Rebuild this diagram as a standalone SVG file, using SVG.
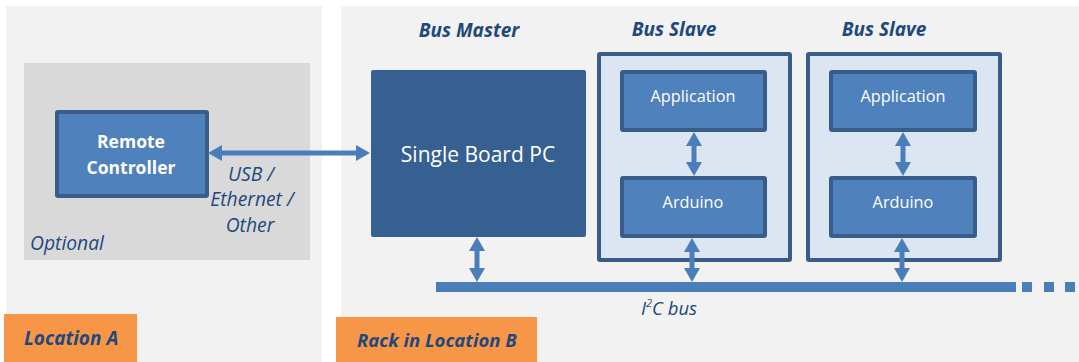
<svg xmlns="http://www.w3.org/2000/svg" width="1079" height="362" viewBox="0 0 1079 362">
<style>
.panel{fill:#f2f2f2}
.lbl{font-family:"Open Sans",Lato,sans-serif;fill:#1f497d;font-style:italic}
.hdr{font-family:"Open Sans",Lato,sans-serif;fill:#1f497d;font-style:italic;font-weight:bold;font-size:19px;text-anchor:middle}
.wt{font-family:"Open Sans",Lato,sans-serif;fill:#ffffff;text-anchor:middle}
.inner{fill:#4f81bd;stroke:#385d8a;stroke-width:4}
.slave{fill:#dce6f2;stroke:#385d8a;stroke-width:4}
.conn{stroke:#4a7ebb;stroke-width:5;fill:none;marker-start:url(#ah);marker-end:url(#ah)}
.tag{fill:#f79646}
</style>
<defs>
<marker id="ah" markerUnits="userSpaceOnUse" markerWidth="14" markerHeight="16" refX="9" refY="8" orient="auto-start-reverse">
<path d="M0,0 L14,8 L0,16 z" fill="#4a7ebb"/>
</marker>
</defs>
<rect width="1079" height="362" fill="#ffffff"/>
<rect class="panel" x="6" y="6" width="316" height="356"/>
<rect class="panel" x="341" y="6" width="738" height="356"/>
<g id="optional-area">
<rect x="24" y="63" width="286" height="197" fill="#d9d9d9"/>
<text class="lbl" x="30" y="250" font-size="19.3">Optional</text>
</g>
<g id="remote-controller">
<rect class="inner" x="57" y="112" width="150" height="84" rx="1"/>
<text class="wt" x="131" y="148" font-size="17.5" font-weight="bold">Remote</text>
<text class="wt" x="131" y="174" font-size="17.5" font-weight="bold">Controller</text>
</g>
<g id="link-label">
<text class="lbl" x="251" y="181" font-size="19.3" text-anchor="middle">USB /</text>
<text class="lbl" x="252" y="206" font-size="19.3" text-anchor="middle">Ethernet /</text>
<text class="lbl" x="250" y="232" font-size="19.3" text-anchor="middle">Other</text>
</g>
<g id="location-a">
<rect class="tag" x="4" y="314" width="133" height="48"/>
<text class="lbl" x="24" y="345" font-size="19" font-weight="bold">Location A</text>
</g>
<g id="location-b">
<rect class="tag" x="336" y="317" width="201" height="45"/>
<text class="lbl" x="357" y="347" font-size="18.5" font-weight="bold">Rack in Location B</text>
</g>
<g id="bus-master">
<text class="hdr" x="469" y="37">Bus Master</text>
<rect x="371" y="70" width="215" height="167" rx="2" fill="#376092"/>
<text class="wt" x="478" y="162" font-size="21">Single Board PC</text>
</g>
<g id="bus-slave-1">
<text class="hdr" x="674" y="36">Bus Slave</text>
<rect class="slave" x="599" y="54" width="191" height="206" rx="1"/>
<rect class="inner" x="622" y="72" width="143" height="58" rx="1"/>
<text class="wt" x="693" y="102" font-size="16.3">Application</text>
<rect class="inner" x="622" y="178" width="143" height="58" rx="1"/>
<text class="wt" x="693" y="208" font-size="16.3">Arduino</text>
</g>
<g id="bus-slave-2">
<text class="hdr" x="884" y="36">Bus Slave</text>
<rect class="slave" x="808" y="54" width="192" height="206" rx="1"/>
<rect class="inner" x="831" y="72" width="144" height="58" rx="1"/>
<text class="wt" x="903" y="102" font-size="16.3">Application</text>
<rect class="inner" x="831" y="178" width="144" height="58" rx="1"/>
<text class="wt" x="903" y="208" font-size="16.3">Arduino</text>
</g>
<g id="i2c-bus">
<rect x="436" y="282" width="580" height="10" fill="#4a7ebb"/>
<rect x="1022" y="282" width="10" height="10" fill="#4a7ebb"/>
<rect x="1044" y="282" width="10" height="10" fill="#4a7ebb"/>
<rect x="1065" y="282" width="10" height="10" fill="#4a7ebb"/>
<text class="lbl" x="641" y="315" font-size="18.5">I<tspan font-size="11" dy="-8">2</tspan><tspan dy="8">C bus</tspan></text>
</g>
<g id="connectors">
<line class="conn" x1="213" y1="153" x2="365" y2="153"/>
<line class="conn" x1="477" y1="242" x2="477" y2="277"/>
<line class="conn" x1="694" y1="137" x2="694" y2="171"/>
<line class="conn" x1="692" y1="243" x2="692" y2="277"/>
<line class="conn" x1="903" y1="137" x2="903" y2="171"/>
<line class="conn" x1="902" y1="243" x2="902" y2="277"/>
</g>
</svg>
